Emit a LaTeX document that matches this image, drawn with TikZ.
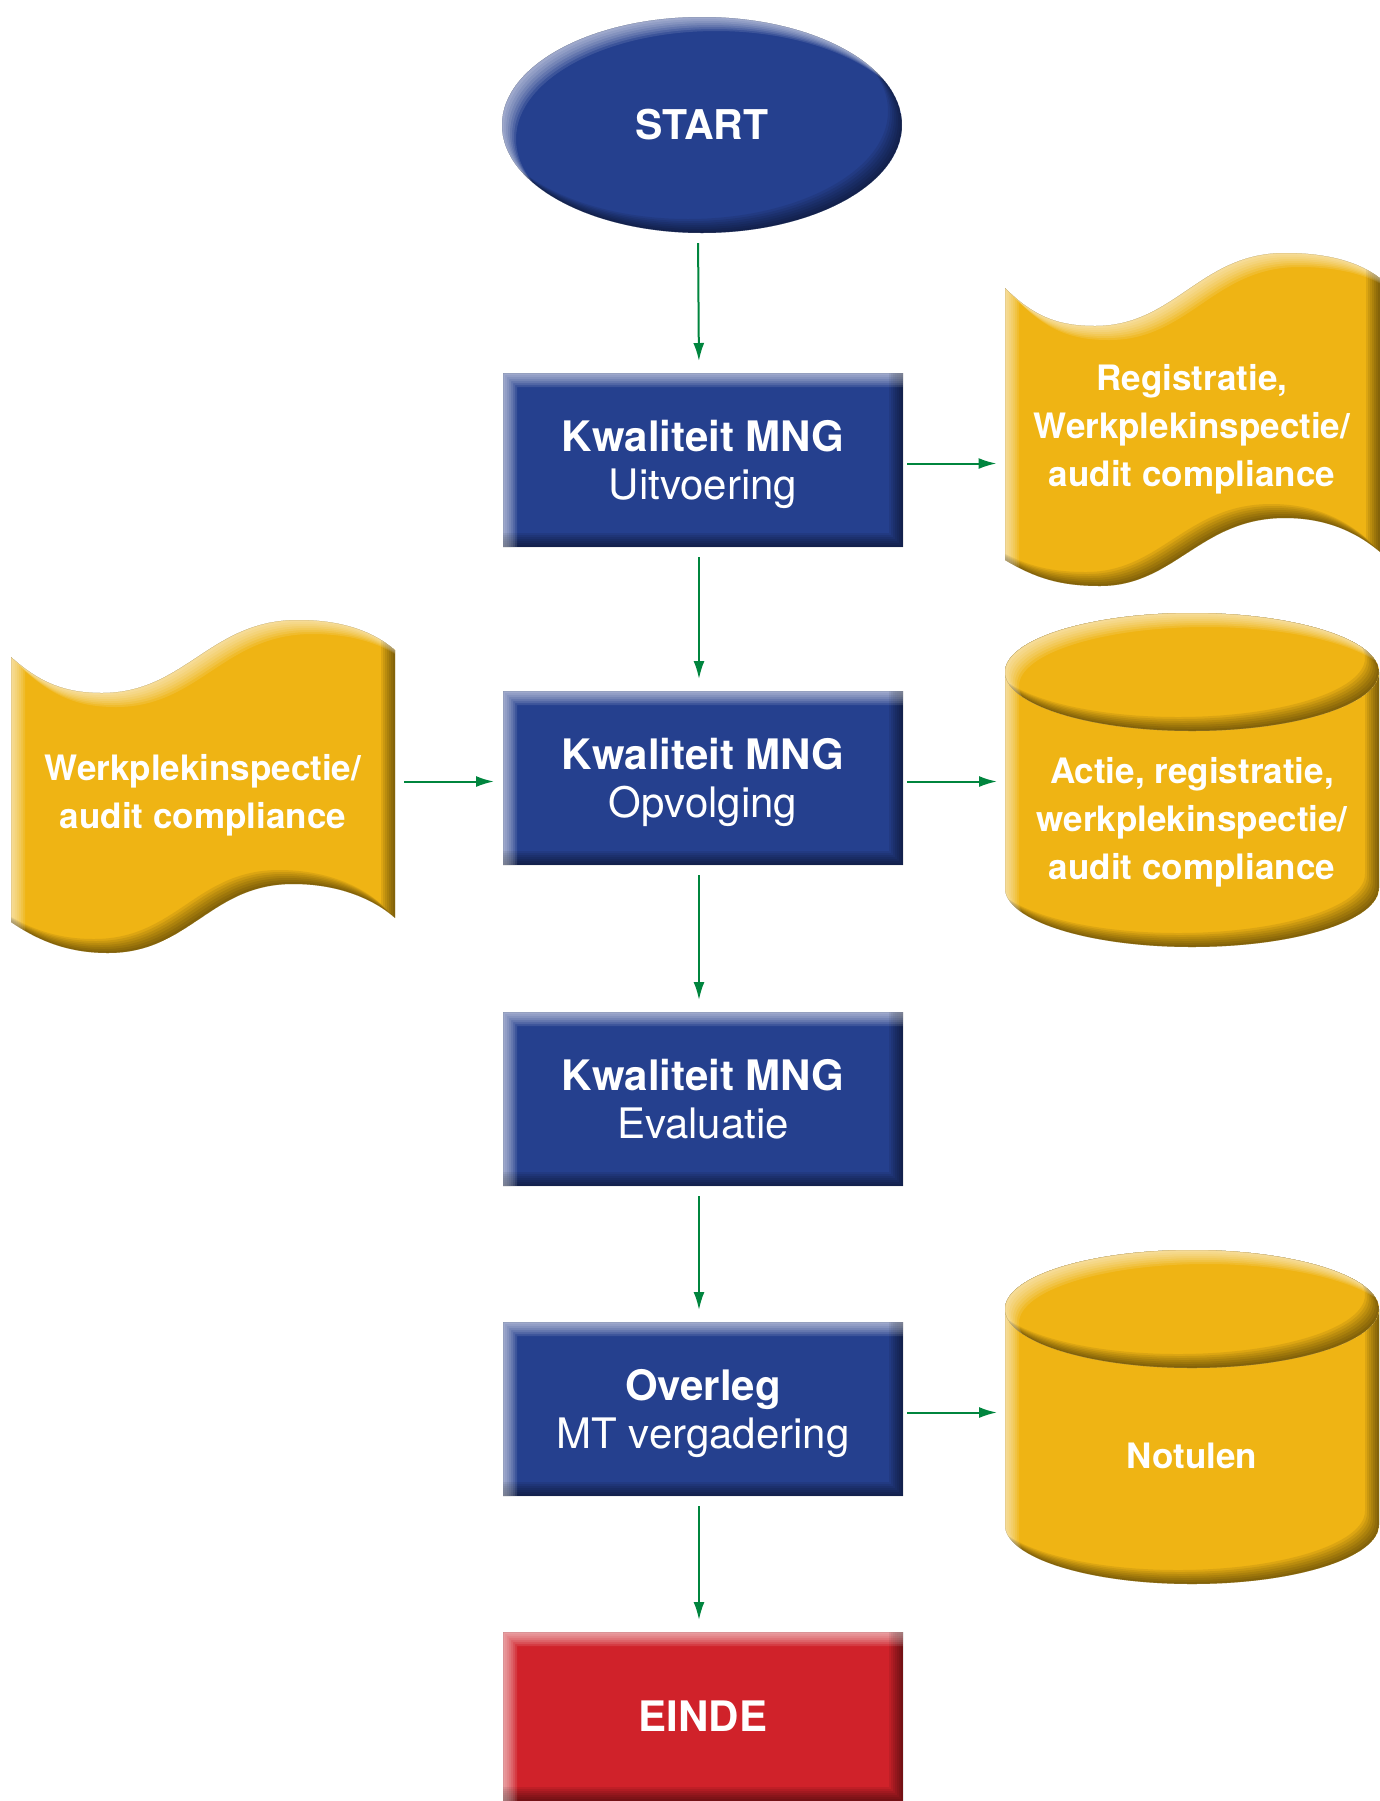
\documentclass[tikz,border=0pt]{standalone}
\usepackage{fontspec}
\setmainfont{TeX Gyre Heros}
\usetikzlibrary{arrows.meta, calc, positioning, shapes.geometric}
\definecolor{mngblue}{RGB}{37, 64, 142}
\definecolor{docyellow}{RGB}{239, 180, 20}
\definecolor{eindered}{RGB}{208, 34, 42}
\definecolor{flowgreen}{RGB}{0, 133, 62}

% soft bevel: light band top-left, dark band bottom-right
\newcommand{\shapebevel}[1]{%
  \begin{scope}
    \clip #1;
    \foreach \d in {2,4,...,14}{
      \fill[black, opacity=0.08, even odd rule] #1 {[shift={(-\d,\d)}] #1};
      \fill[white, opacity=0.11, even odd rule] #1 {[shift={(\d,-\d)}] #1};
    }
  \end{scope}}

\begin{document}
\begin{tikzpicture}[x=0.5pt, y=0.5pt, line width=1pt, >={Latex[length=9pt, width=5.5pt]},
  mngbox/.style={rectangle, fill=#1, text=white, align=center, minimum width=200pt,
    minimum height=87pt, inner sep=0pt, outer sep=0pt, text depth=0pt,
    font=\fontsize{21}{24}\selectfont},
  docnode/.style={text=white, align=center, inner sep=0pt, outer sep=0pt,
    font=\bfseries\fontsize{17.5}{24}\selectfont},
  flow/.style={->, flowgreen, shorten <=5pt, shorten >=6pt}]

	\useasboundingbox (0,0) rectangle (1380,-1801);

	% define documents
	\def\tapeone{(1005,-288) .. controls (1035,-318) and (1060,-326) .. (1095,-326)
		.. controls (1175,-326) and (1200,-253) .. (1285,-253)
		.. controls (1330,-253) and (1360,-263) .. (1380,-278)
		-- (1380,-552) .. controls (1360,-535) and (1330,-518) .. (1285,-518)
		.. controls (1200,-518) and (1175,-586) .. (1100,-586)
		.. controls (1060,-586) and (1035,-578) .. (1005,-560) -- cycle}
	\def\tapetwo{(11,-657) .. controls (40,-683) and (65,-693) .. (102,-693)
		.. controls (185,-693) and (210,-620) .. (298,-620)
		.. controls (345,-620) and (375,-633) .. (395,-650)
		-- (395,-918) .. controls (375,-900) and (340,-884) .. (293,-884)
		.. controls (210,-884) and (190,-953) .. (108,-953)
		.. controls (70,-953) and (40,-942) .. (11,-922) -- cycle}

	% color documents
	\fill[docyellow] \tapeone;
	\shapebevel{\tapeone}
	\fill[docyellow] \tapetwo;
	\shapebevel{\tapetwo}

	% databases
	\foreach \cy in {672, 1309}{
		\def\cyl{(1005,-\cy) arc[start angle=180, end angle=0, x radius=187, y radius=59]
			-- (1379,-\cy-216) arc[start angle=0, end angle=-180, x radius=187, y radius=59] -- cycle}
		\def\cyltop{(1192,-\cy) ellipse [x radius=187, y radius=59]}
		\fill[docyellow] \cyl;
		\shapebevel{\cyl}
		\fill[docyellow] \cyltop;
		\shapebevel{\cyltop}
	}

	% start
	\node[ellipse, fill=mngblue, minimum width=200pt, minimum height=108pt, inner sep=0pt,
		outer sep=0pt, text=white, font=\bfseries\fontsize{20.5}{24}\selectfont] (start) at (702,-125) {START};
	\shapebevel{(702,-125) ellipse [x radius=200, y radius=108]}

	% process boxes
	\node[mngbox=mngblue] (uitv) at (703,-460) {{\bfseries Kwaliteit MNG}\\Uitvoering};
	\node[mngbox=mngblue] (opv) at (703,-778) {{\bfseries Kwaliteit MNG}\\Opvolging};
	\node[mngbox=mngblue] (eval) at (703,-1099) {{\bfseries Kwaliteit MNG}\\Evaluatie};
	\node[mngbox=mngblue] (overleg) at (703,-1409) {{\bfseries Overleg}\\MT vergadering};
	\node[mngbox=eindered, minimum height=84.5pt, font=\bfseries\fontsize{21}{24}\selectfont] (einde) at (703,-1716.5) {EINDE};
	\foreach \y in {460, 778, 1099, 1409}{
		\shapebevel{(503,-\y+87) rectangle (903,-\y-87)}
	}
	\shapebevel{(503,-1632) rectangle (903,-1801)}

	% document labels
	\node[docnode, minimum width=187.5pt] (reg) at (1192,-429) {Registratie,\\Werkplekinspectie/\\audit compliance};
	\node[docnode, minimum width=192pt] (werk) at (203,-795) {Werkplekinspectie/\\audit compliance};
	\node[docnode, minimum width=187pt] (actie) at (1192,-822) {Actie, registratie,\\werkplekinspectie/\\audit compliance};
	\node[docnode, minimum width=187pt] (notulen) at (1192,-1456) {Notulen};

	% main flow
	\foreach \a/\b in {start/uitv, uitv/opv, opv/eval, eval/overleg, overleg/einde}
		\draw[flow] ([xshift=-2pt]\a.south) -- ([xshift=-2pt]\b.north);

	% side flows
	\draw[flow, shorten <=2pt, shorten >=4pt] ([yshift=-1.75pt]uitv.east) -- ([yshift=-1.75pt]uitv.east -| reg.west);
	\draw[flow, shorten <=2pt, shorten >=4pt] ([yshift=-1.75pt]opv.east) -- ([yshift=-1.75pt]opv.east -| actie.west);
	\draw[flow, shorten <=4.5pt, shorten >=4.5pt] ([yshift=-1.75pt]werk.east |- opv.west) -- ([yshift=-1.75pt]opv.west);
	\draw[flow, shorten <=2pt, shorten >=4pt] ([yshift=-1.75pt]overleg.east) -- ([yshift=-1.75pt]overleg.east -| notulen.west);

\end{tikzpicture}
\end{document}
